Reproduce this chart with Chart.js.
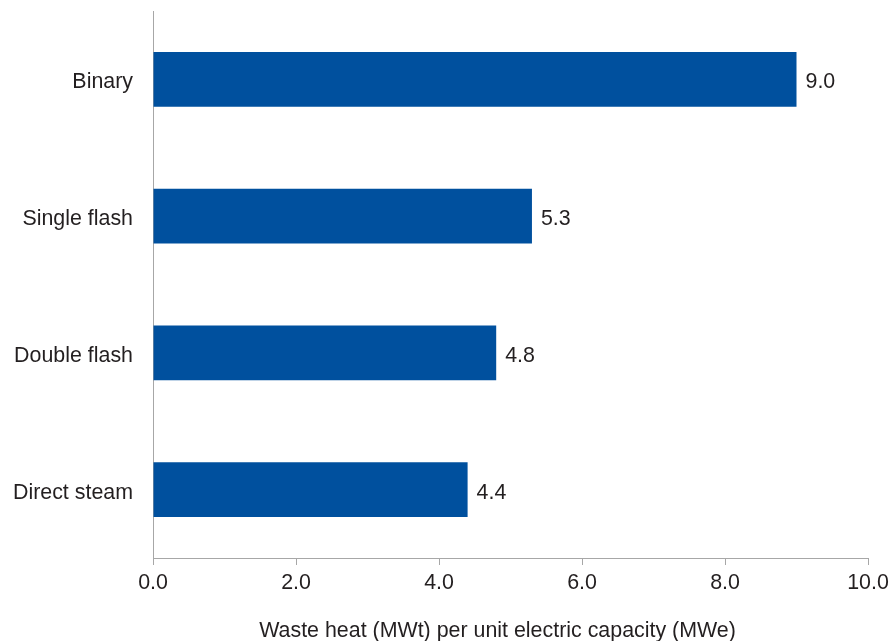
<!DOCTYPE html>
<html>
<head>
<meta charset="utf-8">
<script src="https://cdn.jsdelivr.net/npm/chart.js@4/dist/chart.umd.min.js"></script>
<style>
  html, body { margin: 0; padding: 0; background: #fff; }
  #wrap { width: 896px; height: 641px; }
</style>
</head>
<body>
<div id="wrap"><canvas id="barChart"></canvas></div>
<script>
// data
var plantTypes = ['Binary', 'Single flash', 'Double flash', 'Direct steam'];
var wasteHeat = [9.0, 5.3, 4.8, 4.4];
var xTicks = [0, 2, 4, 6, 8, 10];
var xTitle = 'Waste heat (MWt) per unit electric capacity (MWe)';

var FONT = 'Liberation Sans, Arial, Helvetica, sans-serif';
var SIZE = 21.4;
var TEXT = '#231f20';
var AXIS = '#a7a7a7';

// value labels at the end of each bar, and the axis title (a bit left of centre in the original)
var barLabels = {
  id: 'barLabels',
  afterDatasetsDraw: function(chart) {
    var ctx = chart.ctx;
    var meta = chart.getDatasetMeta(0);
    ctx.save();
    ctx.font = SIZE + 'px ' + FONT;
    ctx.fillStyle = TEXT;
    ctx.textAlign = 'left';
    ctx.textBaseline = 'middle';
    meta.data.forEach(function(bar, i) {
      ctx.fillText(wasteHeat[i].toFixed(1), bar.x + 9, bar.y + 3);
    });
    ctx.textAlign = 'center';
    ctx.textBaseline = 'alphabetic';
    var xs = chart.scales.x;
    ctx.fillText(xTitle, (xs.left + xs.right) / 2 - 13, xs.bottom - 4);
    ctx.restore();
  }
};

var ctx = document.getElementById('barChart').getContext('2d');
var myChart = new Chart(ctx, {
  type: 'bar',
  data: {
    labels: plantTypes,
    datasets: [{
      data: wasteHeat,
      backgroundColor: '#00509e',
      borderWidth: 0,
      categoryPercentage: 1,
      barPercentage: 0.40
    }]
  },
  options: {
    indexAxis: 'y',
    responsive: true,
    maintainAspectRatio: false,
    animation: false,
    layout: { padding: { top: 11, right: 28, bottom: 0, left: 0 } },
    plugins: {
      legend: { display: false },
      tooltip: { enabled: false }
    },
    scales: {
      x: {
        min: 0,
        max: 10,
        afterBuildTicks: function(scale) {
          scale.ticks = xTicks.map(function(v) { return { value: v }; });
        },
        afterFit: function(scale) { scale.height = 83; },
        grid: {
          drawOnChartArea: false,
          drawTicks: true,
          tickLength: 7,
          color: AXIS
        },
        border: { display: true, color: AXIS, width: 1 },
        ticks: {
          padding: 5,
          color: TEXT,
          font: { family: FONT, size: SIZE },
          callback: function(v) { return Number(v).toFixed(1); }
        }
      },
      y: {
        afterFit: function(scale) {
          scale.width = 153;
          scale.paddingTop = 0;
          scale.paddingBottom = 0;
        },
        grid: {
          drawOnChartArea: false,
          drawTicks: false
        },
        border: { display: true, color: AXIS, width: 1 },
        ticks: {
          padding: 20,
          labelOffset: 3,
          color: TEXT,
          font: { family: FONT, size: SIZE }
        }
      }
    }
  },
  plugins: [barLabels]
});
</script>
</body>
</html>
